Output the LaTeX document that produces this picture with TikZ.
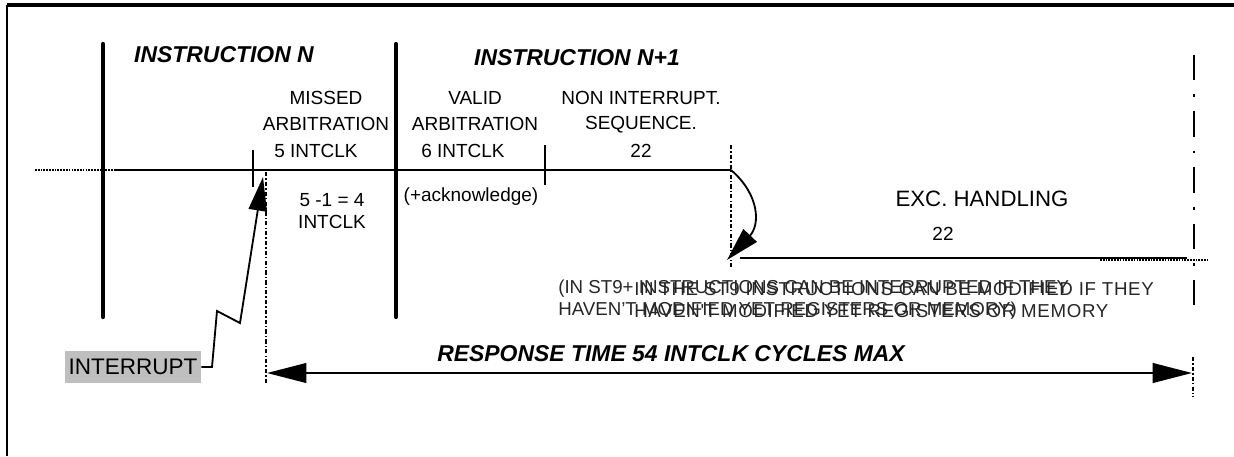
\documentclass[tikz,border=0pt]{standalone}
\usepackage{fontspec}
\setmainfont{Liberation Sans}
\newfontfamily\widefont[LetterSpace=3.5]{Liberation Sans}
\usetikzlibrary{arrows.meta}

\begin{document}
\begin{tikzpicture}[x=0.025cm, y=0.025cm, node distance=0.66cm,
		lbl/.style={font=\fontsize{13.5}{16}\selectfont, inner sep=0pt},
		head/.style={font=\fontsize{16.3}{19}\selectfont\bfseries\itshape, inner sep=0pt},
		note/.style={font=\fontsize{13.3}{15.6}\selectfont, inner sep=0pt, anchor=west, align=left, text=black!85},
		bar/.style={line width=3pt, line cap=round},
		tick/.style={line width=1.2pt},
		dashdot/.style={line width=1.1pt, dash pattern=on 3pt off 1.5pt on 1pt off 1.5pt},
		bigtip/.style={-{Triangle[length=24pt,width=13pt]}}]
	\useasboundingbox (0,0) rectangle (1234,456);
	% frame
	\draw[line width=1.4pt] (7,0) -- (7,451);
	\draw[line width=2.2pt] (7,451) -- (1234,451);
	% time line of the two instructions
	\coordinate (dotstart) at (35,286);
	\coordinate (linestart) at (115,286);
	\coordinate (lineend) at (731,286);
	\draw[line width=0.9pt, dash pattern=on 1.2pt off 0.8pt] (dotstart) -- (linestart);
	\draw[line width=1.3pt] (linestart) -- (lineend);
	\draw[bar] (103,412) -- (103,139);
	\draw[bar] (396,412) -- (396,139);
	\draw[tick] (253,306) -- (253,269);
	\draw[tick] (545,311) -- (545,271);
	% exception handling
	\coordinate (exctip) at (727,196);
	\coordinate (excstart) at (740,198);
	\coordinate (excend) at (1187,198);
	\draw[dashdot] (731,311) -- (731,189);
	\draw[bigtip, line width=1.3pt] (lineend) .. controls (760,261) and (760,231) .. (exctip);
	\draw[line width=1.3pt] (excstart) -- (excend);
	\draw[line width=0.9pt, dash pattern=on 1.2pt off 0.8pt] (1100,196) -- (1207,196);
	\draw[line width=0.8pt, dash pattern=on 18pt off 10pt on 2pt off 10pt] (1194,401) -- (1194,143);
	% labels
	\node[head] (instN) at (224,401) {INSTRUCTION N};
	\node[head] (instM) at (577,398) {INSTRUCTION N+1};
	\node[lbl] (missed) at (326,358) {MISSED};
	\node[lbl] (missedarb) [below of=missed] {ARBITRATION};
	\node[lbl] (missedclk) [below of=missedarb, xshift=-0.25cm] {5 INTCLK};
	\node[lbl] (valid) at (475,358) {VALID};
	\node[lbl] (validarb) [below of=valid] {ARBITRATION};
	\node[lbl] (validclk) [below of=validarb, xshift=-0.3cm] {6 INTCLK};
	\node[lbl] (nonint) at (641,358) {NON INTERRUPT.};
	\node[lbl] (nonseq) [below of=nonint] {SEQUENCE.};
	\node[lbl] (nonclk) [below of=nonseq] {22};
	\node[lbl] (four) at (332,256) {5 -1 = 4};
	\node[lbl] (fourclk) [below of=four, node distance=0.55cm] {INTCLK};
	\node[lbl] (ack) at (471,259) {(+acknowledge)};
	\node[font=\fontsize{15.8}{19}\selectfont, inner sep=0pt] (exc) at (982,257) {EXC. HANDLING};
	\node[lbl] (excclk) at (943,222) {22};
	\node[note] (noteA) at (558,156) {(IN ST9+ INSTRUCTIONS CAN BE INTERRUPTED IF THEY\\HAVEN'T MODIFIED YET REGISTERS OR MEMORY)};
	\node[note, font=\fontsize{13.3}{15.6}\widefont] (noteB) at (634,156) {IN THE ST9 INSTRUCTIONS CAN BE MODIFIED IF THEY\\HAVEN'T MODIFIED YET REGISTERS OR MEMORY};
	% interrupt and response time
	\node[fill=black!25, font=\fontsize{16}{19}\selectfont, inner sep=0pt, minimum width=3.4cm, minimum height=0.78cm] (intr) at (133,89) {INTERRUPT};
	\draw[bigtip, line width=1.3pt] (intr.east) -- (212,89) -- (217,145) -- (240,133) -- (263,279);
	\coordinate (losttop) at (266,284);
	\coordinate (lostbot) at (266,73);
	\draw[dashdot] (losttop) -- (lostbot);
	\draw[dashdot] (1193,99) -- (1193,59);
	\coordinate (respL) at (267,83);
	\coordinate (respR) at (1192,83);
	\draw[{Triangle[length=28pt,width=14pt]}-{Triangle[length=28pt,width=14pt]}, line width=1.4pt] (respL) -- (respR);
	\node[head] (resp) at (671,102) {RESPONSE TIME 54 INTCLK CYCLES MAX};
\end{tikzpicture}
\end{document}
